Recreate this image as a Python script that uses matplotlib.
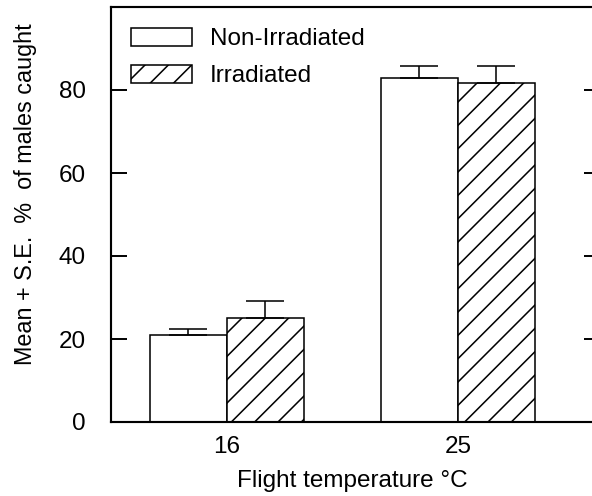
import numpy as np
import matplotlib
matplotlib.use("Agg")
import matplotlib.pyplot as plt

# data
temperatures = ["16", "25"]
non_irradiated = [21.0, 82.8]
non_irradiated_se = [1.3, 3.0]
irradiated = [25.0, 81.8]
irradiated_se = [4.2, 4.0]

plt.rcParams["font.family"] = ["Liberation Sans", "DejaVu Sans"]
plt.rcParams["hatch.linewidth"] = 0.8

DPI = 140
fig = plt.figure(figsize=(592 / DPI, 496 / DPI), dpi=DPI)
ax = fig.add_axes([111 / 592, 74 / 496, 489 / 592, 415 / 496])

x = np.arange(len(temperatures))
width = 0.333

ax.bar(x - width / 2, non_irradiated, width, color="white", edgecolor="black",
       linewidth=0.8, label="Non-Irradiated",
       yerr=[np.zeros(len(x)), non_irradiated_se],
       error_kw=dict(capsize=10, elinewidth=0.8, capthick=0.8, ecolor="black"))
ax.bar(x + width / 2, irradiated, width, color="white", edgecolor="black",
       linewidth=0.8, hatch="//", label="Irradiated",
       yerr=[np.zeros(len(x)), irradiated_se],
       error_kw=dict(capsize=10, elinewidth=0.8, capthick=0.8, ecolor="black"))

ax.set_xlim(-0.502, 1.615)
ax.set_ylim(0, 100)
ax.set_xticks(x)
ax.set_xticklabels(temperatures)
ax.set_yticks([0, 20, 40, 60, 80])

ax.tick_params(axis="x", length=0, pad=7, labelsize=12.5)
ax.tick_params(axis="y", direction="in", length=8, width=1.0, pad=12.8,
               labelsize=12.5, right=True)
for s in ax.spines.values():
    s.set_linewidth(1.1)

ax.set_xlabel("Flight temperature \u00b0C", fontsize=12.5)
ax.xaxis.label.set_va("center")
ax.xaxis.set_label_coords(0.493, -0.142)
ax.set_ylabel("Mean + S.E.  %  of males caught", fontsize=12)
ax.yaxis.label.set_va("center")
ax.yaxis.set_label_coords(-0.174, 0.549)

ax.legend(loc="upper left", bbox_to_anchor=(0.041, 0.950), frameon=False,
          fontsize=12.5, handlelength=2.5, handleheight=0.75,
          handletextpad=0.75, labelspacing=0.61, borderpad=0, borderaxespad=0)

fig.savefig("out.png", dpi=DPI)
